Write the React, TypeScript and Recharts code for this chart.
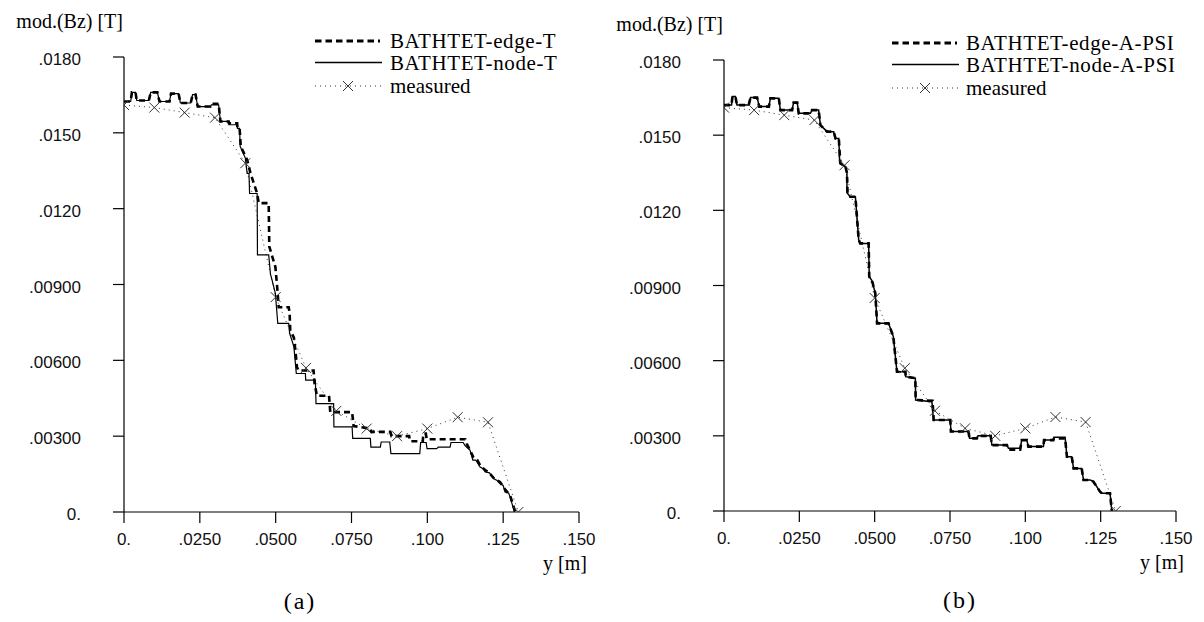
import React from 'react';
import { LineChart, Line, XAxis, YAxis, Legend } from 'recharts';

// ---------- axes ----------
const xTicks = [0, 0.025, 0.05, 0.075, 0.1, 0.125, 0.15];
const xTickLabels = ['0.', '.0250', '.0500', '.0750', '.100', '.125', '.150'];
const yTicks = [0, 0.003, 0.006, 0.009, 0.012, 0.015, 0.018];
const yTickLabels = ['0.', '.00300', '.00600', '.00900', '.0120', '.0150', '.0180'];

// ---------- measured (same in both panels) ----------
const measuredX = [0, 0.01, 0.02, 0.03, 0.04, 0.05, 0.06, 0.07, 0.08, 0.09, 0.1, 0.11, 0.12, 0.13];
const measuredY = [0.0161, 0.016, 0.0158, 0.0156, 0.0138, 0.0085, 0.0057, 0.004, 0.0033, 0.003, 0.0033, 0.00375, 0.00355, 0];

// ---------- panel (a) ----------
const nodeTX = [0, .0022, .0026, .0038, .0042, .0082, .0088, .0110, .0117, .0150, .0155, .0180, .0186, .0220, .0226, .0236, .0243, .0285, .0288, .0312, .0318, .0345, .0346, .0373, .0374, .0381, .0383, .0400, .0406, .0412, .0414, .0439, .0440, .0477, .0483, .0488, .0499, .0507, .0543, .0546, .0560, .0565, .0568, .0598, .0599, .0631, .0633, .0691, .0692, .0752, .0754, .0812, .0814, .0845, .0848, .0876, .0880, .0975, .0978, .0996, .0999, .1031, .1036, .1075, .1078, .1118, .1125, .1141, .1150, .1160, .1174, .1185, .1191, .1205, .1218, .1230, .1240, .1250, .1256, .1268, .1273, .1287];
const nodeTY = [.01624, .01624, .0166, .0166, .01628, .01628, .0166, .0166, .01624, .01624, .01655, .01655, .01618, .01618, .01651, .01651, .01604, .01604, .01611, .01611, .01545, .01545, .01532, .01532, .01518, .01518, .01446, .01400, .0134, .0134, .0126, .0126, .01017, .01017, .0094, .00918, .00865, .00746, .00746, .00707, .00654, .00588, .00548, .00548, .00522, .00522, .00429, .00429, .00337, .00337, .00291, .00291, .00257, .00257, .00277, .00277, .00231, .00231, .00275, .00275, .00251, .00251, .00257, .00257, .00275, .00275, .00262, .00244, .00205, .00205, .00178, .0017, .00158, .00155, .00132, .00125, .00112, .00105, .00079, .00075, .00059, 0];

const edgeTX = [0, .0022, .0026, .0038, .0042, .0082, .0088, .0110, .0117, .0150, .0155, .0180, .0186, .0220, .0226, .0236, .0243, .0285, .0288, .0312, .0318, .0345, .0346, .0373, .0374, .0381, .0385, .0406, .0417, .0428, .0439, .0444, .0477, .0479, .0499, .0505, .0510, .0543, .0546, .0548, .0560, .0565, .0570, .0575, .0625, .0628, .0636, .0676, .0680, .0752, .0757, .0812, .0815, .0878, .0882, .0940, .0943, .0985, .0987, .0995, .0998, .1125, .1130, .1141, .1152, .1165, .1174, .1191, .1200, .1218, .1240, .1256, .1273, .1290];
const edgeTY = [.01624, .01624, .0166, .0166, .01628, .01628, .0166, .0166, .01624, .01624, .01655, .01655, .01618, .01618, .01651, .01651, .01604, .01604, .01615, .01615, .01545, .01545, .01538, .01538, .0152, .0152, .01446, .01393, .0134, .0130, .0126, .01222, .01222, .0105, .0097, .0089, .0081, .0081, .00787, .0072, .0069, .0064, .00574, .0056, .0056, .0051, .0046, .0046, .00395, .00395, .0034, .0033, .00317, .00317, .0030, .0030, .0028, .0028, .0031, .0031, .00288, .00288, .0027, .00244, .00215, .00205, .00185, .00165, .0016, .00135, .00118, .0009, .00065, 0];

// ---------- panel (b) ----------
const nodeBX = [0, .0025, .0028, .0038, .0043, .0082, .0088, .0110, .0117, .0149, .0154, .0182, .0187, .0226, .0231, .0243, .0248, .0287, .0292, .0314, .0320, .0342, .0364, .0370, .0381, .0384, .0403, .0408, .0408, .0419, .0436, .0447, .0452, .0480, .0482, .0491, .0502, .0508, .0546, .0562, .0563, .0574, .0602, .0603, .0635, .0636, .0690, .0695, .0751, .0753, .0811, .0815, .0839, .0843, .0885, .0889, .0939, .0944, .0983, .0988, .1005, .1010, .1060, .1062, .1093, .1095, .1132, .1138, .1154, .1160, .1187, .1193, .1215, .1226, .1248, .1254, .1281, .1287];
const nodeBY = [.0162, .0162, .01654, .01654, .0162, .0162, .0165, .0165, .01614, .01614, .01647, .01647, .0160, .0160, .0163, .0163, .01587, .01587, .0160, .0160, .0154, .01514, .01514, .01487, .01487, .01388, .01374, .0135, .0127, .01254, .01254, .01082, .01068, .01068, .00935, .0092, .0087, .00749, .00749, .00696, .00682, .00556, .00556, .00536, .0053, .00443, .00436, .00363, .00363, .00317, .00317, .0029, .0029, .0030, .0030, .00263, .00263, .0025, .0025, .00283, .00283, .00257, .00257, .00283, .00283, .00294, .00294, .00217, .00217, .0017, .0017, .00124, .00124, .00117, .00077, .00071, .00071, 0];

const edgeBX = [0, .0025, .0028, .0038, .0043, .0082, .0088, .0110, .0117, .0149, .0154, .0182, .0187, .0226, .0231, .0243, .0248, .0287, .0292, .0314, .0320, .0342, .0364, .0370, .0381, .0386, .0403, .0408, .0410, .0419, .0436, .0447, .0452, .0480, .0482, .0491, .0502, .0508, .0546, .0562, .0563, .0574, .0602, .0603, .0635, .0636, .0692, .0696, .0751, .0753, .0811, .0815, .0839, .0843, .0885, .0889, .0939, .0944, .0983, .0988, .1005, .1010, .1060, .1062, .1093, .1095, .1132, .1138, .1154, .1160, .1187, .1193, .1215, .1226, .1248, .1254, .1281, .1287];
const edgeBY = [.0162, .0162, .01654, .01654, .0162, .0162, .0165, .0165, .01614, .01614, .01647, .01647, .0160, .0160, .0163, .0163, .01587, .01587, .0160, .0160, .0154, .01514, .01514, .01487, .01487, .01388, .01374, .0135, .0127, .01254, .01254, .01082, .01068, .01068, .00935, .0092, .0087, .00749, .00749, .00696, .00682, .00556, .00556, .00536, .0053, .00443, .0044, .00363, .00363, .00317, .00317, .0029, .0029, .0030, .0030, .00263, .00263, .00245, .00245, .00283, .00283, .00257, .00257, .00283, .00283, .0029, .0029, .00217, .00217, .0017, .0017, .00124, .00124, .00117, .00077, .00071, .00071, 0];

const namesA = ['BATHTET-edge-T', 'BATHTET-node-T', 'measured'];
const namesB = ['BATHTET-edge-A-PSI', 'BATHTET-node-A-PSI', 'measured'];

const zip = (xs: number[], ys: number[]) => xs.map((x, i) => ({ x, y: ys[i] }));

const SERIF = '"Liberation Serif", "Times New Roman", serif';
const SANS = '"Liberation Sans", Arial, sans-serif';
const serifStyle = { fontFamily: SERIF };
const sansStyle = { fontFamily: SANS };

const XTick = (props: any) => {
  const { x, y, payload } = props;
  const i = xTicks.indexOf(payload.value);
  return (
    <text x={x} y={y} dy={12} textAnchor="middle" style={sansStyle} fontSize={17} fill="#111">
      {i >= 0 ? xTickLabels[i] : ''}
    </text>
  );
};

const YTick = (props: any) => {
  const { x, y, payload } = props;
  let i = -1;
  yTicks.forEach((t, k) => { if (Math.abs(t - payload.value) < 1e-9) i = k; });
  return (
    <text x={x} y={y} dy={8} textAnchor="end" style={sansStyle} fontSize={17} fill="#111">
      {i >= 0 ? yTickLabels[i] : ''}
    </text>
  );
};

const XMark = ({ cx, cy, s = 5 }: { cx: number; cy: number; s?: number }) => (
  <path d={`M${cx - s},${cy - s}L${cx + s},${cy + s}M${cx - s},${cy + s}L${cx + s},${cy - s}`} stroke="#333" strokeWidth={1} fill="none" />
);

type PanelProps = {
  offsetX: number;
  plotLeft: number;
  plotTop: number;
  plotW: number;
  plotH: number;
  edge: { x: number; y: number }[];
  node: { x: number; y: number }[];
  names: string[];
  tag: string;
  tagX: number;
  legendLineX: number;
  legendTextX: number;
  legendDy: number;
  nodeWidth: number;
};

function Panel(p: PanelProps) {
  const measured = zip(measuredX, measuredY);
  const yAxisW = 60;
  const xAxisH = 30;
  const margin = {
    top: p.plotTop,
    left: p.plotLeft - yAxisW,
    right: 600 - p.plotLeft - p.plotW,
    bottom: 622 - p.plotTop - p.plotH - xAxisH,
  };
  const L = p.legendLineX;
  const T = p.legendTextX;
  const d = p.legendDy;
  const legendContent = () => (
    <svg width={600} height={110} style={{ display: 'block' }}>
      <line x1={L} x2={L + 65} y1={41 + d} y2={41 + d} stroke="#000" strokeWidth={3} strokeDasharray="6.5 4" />
      <text x={T} y={48 + d} style={serifStyle} fontSize={21} letterSpacing={0.6} fill="#000">{p.names[0]}</text>
      <line x1={L} x2={L + 67} y1={62.5 + d} y2={62.5 + d} stroke="#000" strokeWidth={1.3} />
      <text x={T} y={70 + d} style={serifStyle} fontSize={21} letterSpacing={0.6} fill="#000">{p.names[1]}</text>
      <line x1={L} x2={L + 67} y1={86 + d} y2={86 + d} stroke="#333" strokeWidth={1} strokeDasharray="1 4" />
      <XMark cx={L + 33} cy={86 + d} />
      <text x={T} y={93 + d} style={serifStyle} fontSize={21} fill="#000">{p.names[2]}</text>
    </svg>
  );

  const yLabel = (lp: any) => {
    const vb = lp.viewBox || {};
    const ax = (vb.x ?? margin.left) + (vb.width ?? yAxisW);
    const ty = (vb.y ?? p.plotTop) - 29;
    return (
      <text x={ax - 1} y={ty} textAnchor="end" style={serifStyle} fontSize={20} fill="#000">mod.(Bz) [T]</text>
    );
  };
  const xLabel = (lp: any) => {
    const vb = lp.viewBox || {};
    const ex = (vb.x ?? p.plotLeft) + (vb.width ?? p.plotW);
    const by = vb.y ?? (p.plotTop + p.plotH);
    return (
      <g>
        <text x={ex + 8} y={by + 58} textAnchor="end" style={serifStyle} fontSize={20} fill="#000">y [m]</text>
        <text x={p.tagX} y={by + 97} textAnchor="middle" style={serifStyle} fontSize={24} letterSpacing={2} fill="#000">{p.tag}</text>
      </g>
    );
  };

  return (
    <div style={{ position: 'absolute', left: p.offsetX, top: 0, width: 600, height: 622 }}>
      <LineChart width={600} height={622} margin={margin}>
        <XAxis
          dataKey="x"
          type="number"
          domain={[0, 0.15]}
          ticks={xTicks}
          interval={0}
          allowDataOverflow
          height={xAxisH}
          tickSize={11}
          tickMargin={10}
          axisLine={{ stroke: '#000', strokeWidth: 1.2 }}
          tickLine={{ stroke: '#000', strokeWidth: 1.2 }}
          tick={<XTick />}
          label={xLabel}
        />
        <YAxis
          type="number"
          domain={[0, 0.018]}
          ticks={yTicks}
          interval={0}
          allowDataOverflow
          width={yAxisW}
          tickSize={11}
          tickMargin={32}
          axisLine={{ stroke: '#000', strokeWidth: 1.2 }}
          tickLine={{ stroke: '#000', strokeWidth: 1.2 }}
          tick={<YTick />}
          label={yLabel}
        />
        <Legend
          layout="horizontal"
          verticalAlign="middle"
          align="center"
          content={legendContent}
          wrapperStyle={{ left: 0, top: 0, width: 600, height: 110 }}
        />
        <Line
          data={measured}
          dataKey="y"
          name={p.names[2]}
          type="linear"
          stroke="#333"
          strokeWidth={1}
          strokeDasharray="1 4"
          dot={(dp: any) => <XMark key={`m${dp.index}`} cx={dp.cx} cy={dp.cy} />}
          isAnimationActive={false}
        />
        <Line
          data={p.node}
          dataKey="y"
          name={p.names[1]}
          type="linear"
          stroke="#000"
          strokeWidth={p.nodeWidth}
          dot={false}
          isAnimationActive={false}
        />
        <Line
          data={p.edge}
          dataKey="y"
          name={p.names[0]}
          type="linear"
          stroke="#000"
          strokeWidth={2.6}
          strokeDasharray="6 4"
          dot={false}
          isAnimationActive={false}
        />
      </LineChart>
    </div>
  );
}

export default function App() {
  return (
    <div style={{ position: 'absolute', left: 0, top: 0, width: 1204, height: 622, background: '#fff', overflow: 'hidden' }}>
      <Panel
        offsetX={0}
        plotLeft={124}
        plotTop={57}
        plotW={455}
        plotH={455}
        edge={zip(edgeTX, edgeTY)}
        node={zip(nodeTX, nodeTY)}
        names={namesA}
        tag="(a)"
        tagX={300}
        legendLineX={315}
        legendTextX={390}
        legendDy={0}
        nodeWidth={1.2}
      />
      <Panel
        offsetX={600}
        plotLeft={124}
        plotTop={60}
        plotW={452}
        plotH={451}
        edge={zip(edgeBX, edgeBY)}
        node={zip(nodeBX, nodeBY)}
        names={namesB}
        tag="(b)"
        tagX={360}
        legendLineX={292}
        legendTextX={366}
        legendDy={2}
        nodeWidth={1.5}
      />
    </div>
  );
}
